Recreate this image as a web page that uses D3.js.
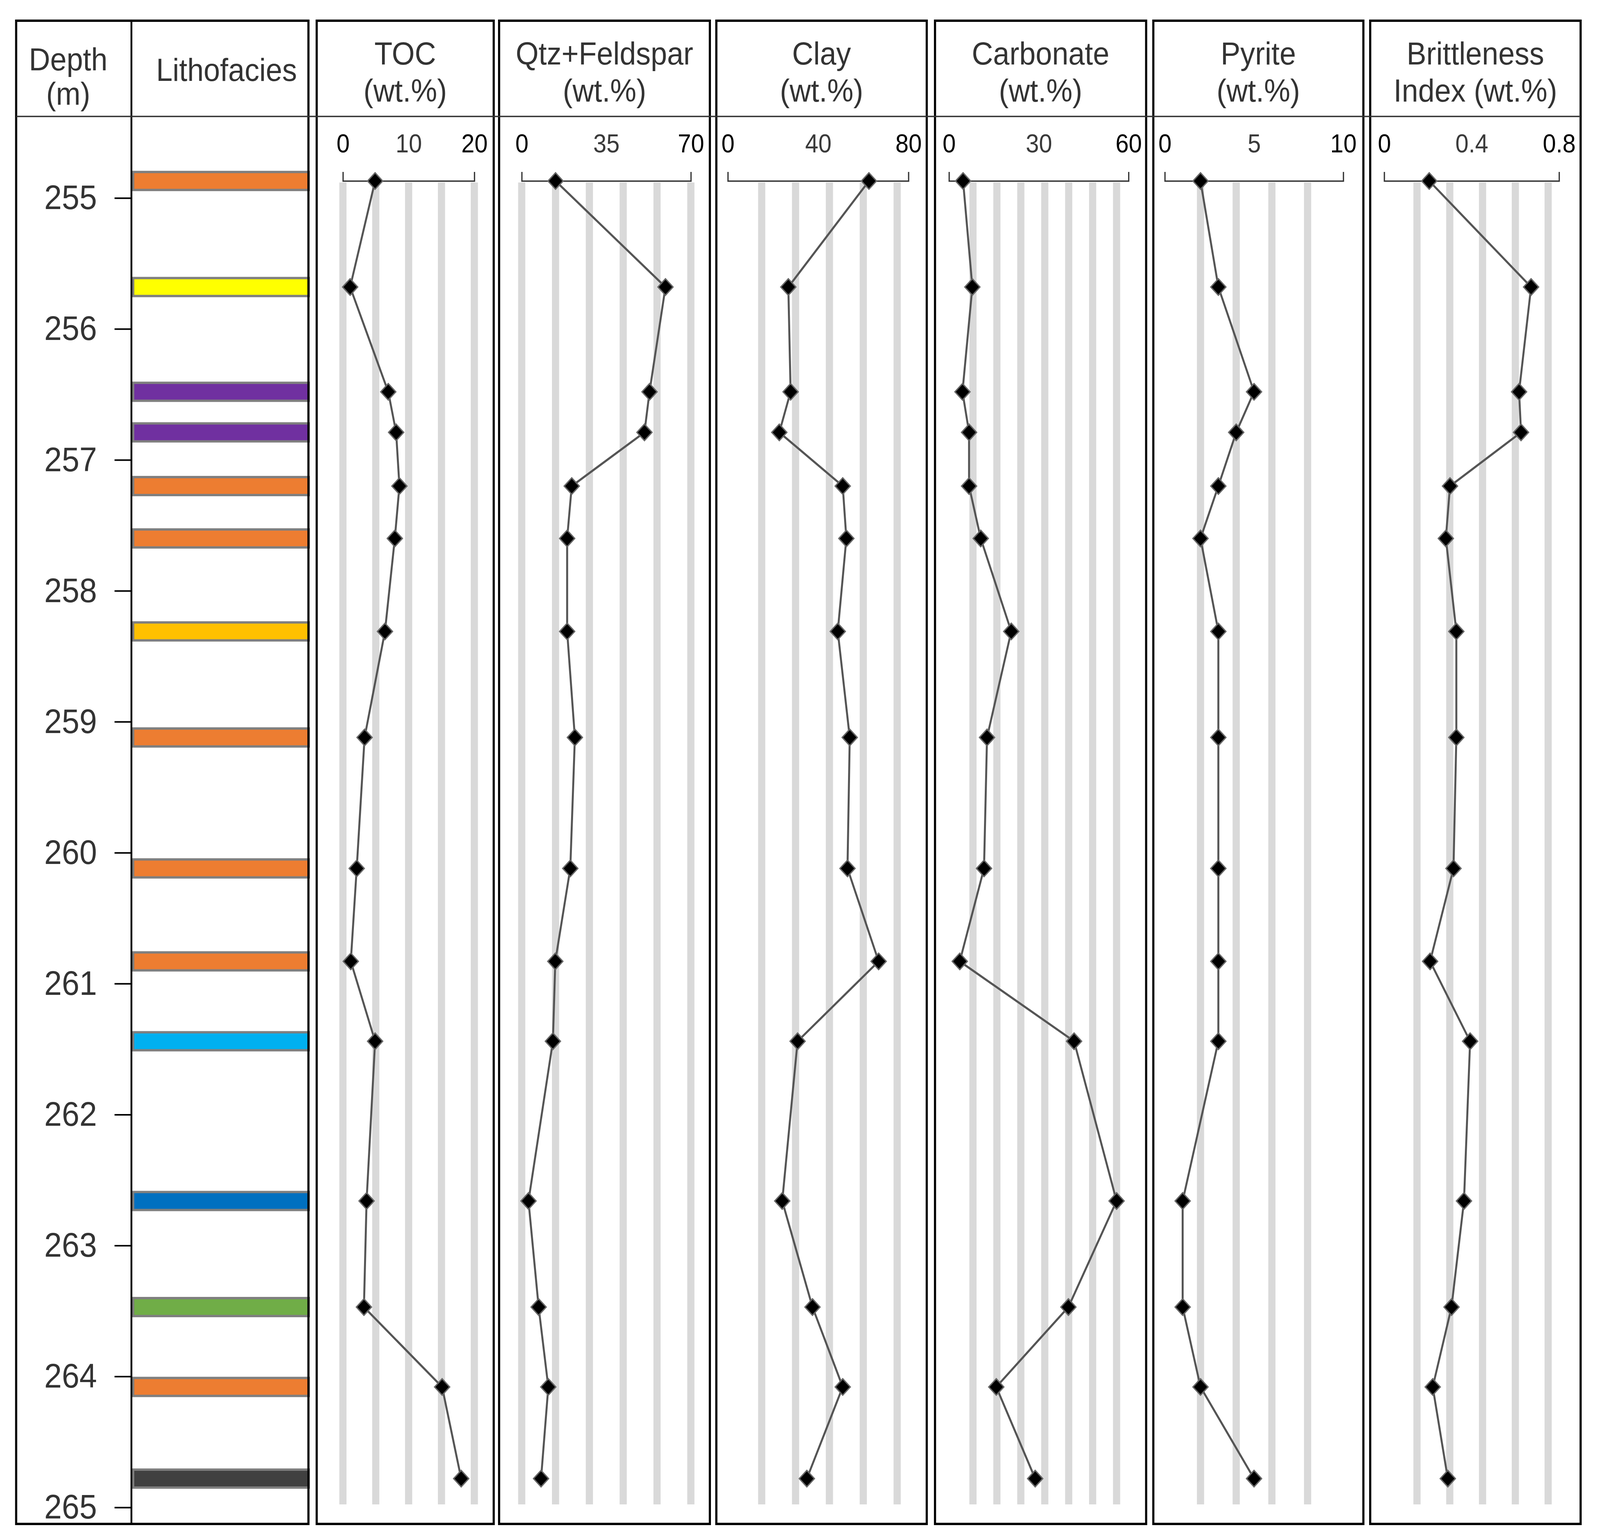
<!DOCTYPE html>
<html>
<head>
<meta charset="utf-8">
<script src="https://cdn.jsdelivr.net/npm/d3@7"></script>
<style>
  html, body { margin: 0; padding: 0; background: #fff; overflow: hidden; }
  svg { display: block; }
  text { font-family: "Liberation Sans", Arial, sans-serif; }
</style>
</head>
<body>
<svg id="chart"></svg>
<script>
// ---------------- DATA ----------------
const depthTicks = [255, 256, 257, 258, 259, 260, 261, 262, 263, 264, 265];
const sampleDepth = [254.87, 255.68, 256.48, 256.79, 257.20, 257.60, 258.31, 259.12, 260.12, 260.83, 261.44, 262.66, 263.47, 264.08, 264.78];
const lithofacies = ["A", "B", "C", "C", "A", "A", "D", "A", "A", "A", "E", "F", "G", "A", "H"];
const lithoColors = { A: "#ED7D31", B: "#FFFF00", C: "#7030A0", D: "#FFC000", E: "#00B0F0", F: "#0070C0", G: "#70AD47", H: "#404040" };

const tocValues     = [4.9, 1.1, 6.9, 8.1, 8.6, 7.9, 6.4, 3.3, 2.1, 1.2, 4.9, 3.6, 3.2, 15.1, 18.0];
const qtzFeldValues = [14.0, 59.5, 52.9, 50.8, 20.7, 18.8, 18.8, 22.0, 20.1, 13.9, 12.9, 2.8, 7.0, 11.0, 8.0];
const clayValues    = [62.5, 26.8, 27.8, 22.8, 50.9, 52.5, 48.7, 54.0, 53.0, 66.8, 30.9, 24.1, 37.5, 50.9, 35.0];
const carbValues    = [4.7, 7.8, 4.5, 6.7, 6.7, 10.6, 20.8, 12.7, 11.7, 3.6, 41.8, 56.0, 39.9, 15.8, 28.8];
const pyriteValues  = [2.0, 3.0, 5.0, 4.0, 3.0, 2.0, 3.0, 3.0, 3.0, 3.0, 3.0, 1.0, 1.0, 2.0, 5.0];
const biValues      = [0.206, 0.672, 0.617, 0.626, 0.301, 0.282, 0.330, 0.330, 0.317, 0.210, 0.393, 0.365, 0.308, 0.222, 0.291];

const tocTicks = [0, 10, 20],   tocGrid = [0, 5, 10, 15, 20];
const qtzTicks = [0, 35, 70],   qtzGrid = [0, 14, 28, 42, 56, 70];
const clayTicks = [0, 40, 80],  clayGrid = [15, 30, 45, 60, 75];
const carbTicks = [0, 30, 60],  carbGrid = [8, 16, 24, 32, 40, 48, 56];
const pyriteTicks = [0, 5, 10], pyriteGrid = [2, 4, 6, 8];
const biTicks = [0, 0.4, 0.8],  biGrid = [0.15, 0.3, 0.45, 0.6, 0.75];

const tocTitle = ["TOC", "(wt.%)"];
const qtzTitle = ["Qtz+Feldspar", "(wt.%)"];
const clayTitle = ["Clay", "(wt.%)"];
const carbTitle = ["Carbonate", "(wt.%)"];
const pyriteTitle = ["Pyrite", "(wt.%)"];
const biTitle = ["Brittleness", "Index (wt.%)"];

const panels = [
  { title: tocTitle,    values: tocValues,     ticks: tocTicks,    grid: tocGrid },
  { title: qtzTitle,    values: qtzFeldValues, ticks: qtzTicks,    grid: qtzGrid },
  { title: clayTitle,   values: clayValues,    ticks: clayTicks,   grid: clayGrid },
  { title: carbTitle,   values: carbValues,    ticks: carbTicks,   grid: carbGrid },
  { title: pyriteTitle, values: pyriteValues,  ticks: pyriteTicks, grid: pyriteGrid },
  { title: biTitle,     values: biValues,      ticks: biTicks,     grid: biGrid }
];

// ---------------- LAYOUT ----------------
const W = 4456, H = 3936;
const frameTop = 53, frameBottom = 3900, headerY = 298, axisY = 463, gridBottom = 3850;
const panelBoxes = [[882, 1375], [1390, 1977], [1995, 2581], [2604, 3192], [3212, 3797], [3816, 4402]];
const axisRanges = [[955, 1321], [1453, 1924], [2027, 2530], [2643, 3143], [3244, 3741], [3855, 4342]];
const depthBox = [45, 859], depthDivider = 366;

// fit the 4456x3936 drawing to whatever viewport the browser really has
const vw = window.innerWidth || W, vh = window.innerHeight || H;
const svg = d3.select("#chart")
  .attr("width", vw).attr("height", vh)
  .attr("viewBox", `0 0 ${W} ${H}`)
  .attr("preserveAspectRatio", "none");
svg.append("rect").attr("width", W).attr("height", H).attr("fill", "#fff");

const y = d3.scaleLinear().domain([255, 265]).range([506.7, 3857.7]);

// ---- Depth + Lithofacies panel ----
const lith = svg.append("g");
lith.selectAll("rect.bar")
  .data(sampleDepth.map((d, i) => ({ depth: d, cls: lithofacies[i] })))
  .join("rect")
  .attr("class", "bar")
  .attr("x", 371).attr("width", 489)
  .attr("y", d => y(d.depth) - 23).attr("height", 46)
  .attr("fill", d => lithoColors[d.cls])
  .attr("stroke", "#7f7f7f").attr("stroke-width", 6);

const depthAxis = d3.axisLeft(y).tickValues(depthTicks).tickSize(47).tickPadding(49).tickFormat(d3.format("d"));
const da = svg.append("g").attr("transform", `translate(${depthDivider},0)`).call(depthAxis);
da.select(".domain").remove();
da.selectAll(".tick line").attr("stroke", "#000").attr("stroke-width", 4);
da.selectAll(".tick text").attr("font-size", 88).attr("fill", "#333")
  .attr("font-family", "'Liberation Sans', Arial, sans-serif");

svg.append("line").attr("x1", depthDivider).attr("x2", depthDivider).attr("y1", frameTop).attr("y2", frameBottom)
  .attr("stroke", "#000").attr("stroke-width", 5);
svg.append("rect").attr("x", depthBox[0]).attr("y", frameTop).attr("width", depthBox[1] - depthBox[0]).attr("height", frameBottom - frameTop)
  .attr("fill", "none").attr("stroke", "#000").attr("stroke-width", 6);

svg.append("text").attr("x", 190).attr("y", 180).attr("text-anchor", "middle").attr("font-size", 82).attr("fill", "#333").text("Depth");
svg.append("text").attr("x", 190).attr("y", 268).attr("text-anchor", "middle").attr("font-size", 82).attr("fill", "#333").text("(m)");
svg.append("text").attr("x", 631).attr("y", 207).attr("text-anchor", "middle").attr("font-size", 82).attr("fill", "#333").text("Lithofacies");

// ---- Data panels ----
panels.forEach((p, i) => {
  const [bx0, bx1] = panelBoxes[i];
  const x = d3.scaleLinear().domain([p.ticks[0], p.ticks[p.ticks.length - 1]]).range(axisRanges[i]);
  const g = svg.append("g");

  g.selectAll("rect.stripe").data(p.grid).join("rect")
    .attr("class", "stripe")
    .attr("x", d => x(d) - 10).attr("width", 20)
    .attr("y", axisY + 4).attr("height", gridBottom - axisY - 4)
    .attr("fill", "#d9d9d9");

  const ax = d3.axisTop(x).tickValues(p.ticks).tickSizeInner(0).tickSizeOuter(23).tickPadding(73)
    .tickFormat(d => String(d));
  const ag = g.append("g").attr("transform", `translate(0,${axisY})`).call(ax);
  ag.select(".domain").attr("stroke", "#333").attr("stroke-width", 3.5);
  ag.selectAll(".tick line").remove();
  ag.selectAll(".tick text").attr("font-size", 66)
    .attr("font-family", "'Liberation Sans', Arial, sans-serif")
    .attr("fill", (d, k) => (k === 1 ? "#3a3a3a" : "#000"));

  const pts = p.values.map((v, k) => ({ v, depth: sampleDepth[k] }));
  const line = d3.line().x(d => x(d.v)).y(d => y(d.depth));
  g.append("path").datum(pts).attr("d", line)
    .attr("fill", "none").attr("stroke", "#555").attr("stroke-width", 5.5).attr("stroke-linejoin", "round");

  const sym = d3.symbol(d3.symbolSquare, 880);
  g.selectAll("path.mk").data(pts).join("path")
    .attr("class", "mk")
    .attr("d", sym)
    .attr("transform", d => `translate(${x(d.v)},${y(d.depth)}) rotate(45)`)
    .attr("fill", "#000").attr("stroke", "#666").attr("stroke-width", 3.5);

  svg.append("rect").attr("x", bx0).attr("y", frameTop).attr("width", bx1 - bx0).attr("height", frameBottom - frameTop)
    .attr("fill", "none").attr("stroke", "#000").attr("stroke-width", 6);

  const cx = (bx0 + bx1) / 2;
  svg.append("text").attr("x", cx).attr("y", 165).attr("text-anchor", "middle").attr("font-size", 82).attr("fill", "#333").text(p.title[0]);
  svg.append("text").attr("x", cx).attr("y", 260).attr("text-anchor", "middle").attr("font-size", 82).attr("fill", "#333").text(p.title[1]);
});

svg.append("line").attr("x1", depthBox[0]).attr("x2", panelBoxes[5][1]).attr("y1", headerY).attr("y2", headerY)
  .attr("stroke", "#333").attr("stroke-width", 3.5);
</script>
</body>
</html>
